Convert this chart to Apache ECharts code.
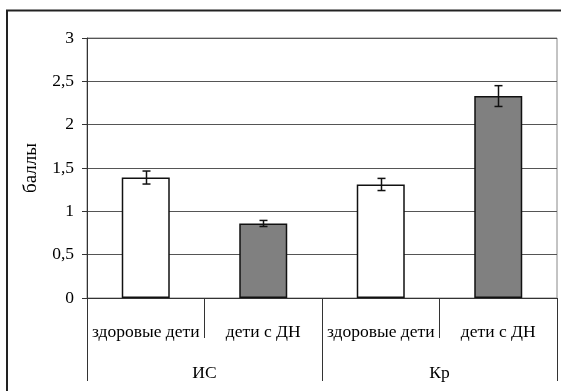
<!DOCTYPE html>
<html>
<head>
<meta charset="utf-8">
<script src="https://cdn.jsdelivr.net/npm/echarts@6/dist/echarts.min.js"></script>
<style>
  html, body { margin: 0; padding: 0; background: #fff; }
  #chart { width: 561px; height: 391px; }
</style>
</head>
<body>
<div id="chart"></div>
<script>
// Indicator groups and the two subject groups inside each
const groups = ['ИС', 'Кр'];
const subgroups = ['здоровые дети', 'дети с ДН'];
// Mean scores and their error margins, in order ИС/здоровые, ИС/ДН, Кр/здоровые, Кр/ДН
const means = [1.39, 0.86, 1.31, 2.33];
const errors = [0.075, 0.035, 0.07, 0.12];
const yTicks = [0, 0.5, 1, 1.5, 2, 2.5, 3];

const categories = [];
groups.forEach(() => subgroups.forEach(s => categories.push(s)));
const fills = ['#ffffff', '#808080'];

const font = '"Liberation Serif", "Times New Roman", serif';
const fs = 17.5;
const chart = echarts.init(document.getElementById('chart'));

chart.setOption({
  animation: false,
  backgroundColor: '#fff',
  textStyle: { fontFamily: font },
  graphic: [{
    type: 'rect',
    shape: { x: 7, y: 10.5, width: 600, height: 420 },
    style: { fill: 'none', stroke: '#222', lineWidth: 2 },
    silent: true
  }],
  grid: {
    left: 87, right: 4, top: 38, bottom: 93,
    show: true, borderColor: '#888', borderWidth: 1, backgroundColor: 'transparent'
  },
  xAxis: [{
    type: 'category',
    data: categories,
    boundaryGap: true,
    axisLine: { lineStyle: { color: '#333', width: 1 } },
    axisTick: { show: true, length: 40, alignWithLabel: false, lineStyle: { color: '#333' } },
    axisLabel: { color: '#000', fontSize: fs, fontFamily: font, margin: 25, interval: 0 },
    splitLine: { show: false }
  }, {
    type: 'category',
    data: groups,
    position: 'bottom',
    offset: 40,
    boundaryGap: true,
    axisLine: { show: false },
    axisTick: { show: true, length: 43, alignWithLabel: false, lineStyle: { color: '#333' } },
    axisLabel: { color: '#000', fontSize: fs, fontFamily: font, margin: 26 },
    splitLine: { show: false }
  }],
  yAxis: {
    type: 'value',
    min: yTicks[0],
    max: yTicks[yTicks.length - 1],
    interval: 0.5,
    name: 'баллы',
    nameLocation: 'middle',
    nameGap: 46,
    nameTextStyle: { color: '#000', fontSize: 19, fontFamily: font },
    axisLine: { show: true, lineStyle: { color: '#333', width: 1 } },
    axisTick: { show: true, length: 5, lineStyle: { color: '#333' } },
    axisLabel: {
      color: '#000', fontSize: fs, fontFamily: font, margin: 13,
      formatter: v => String(v).replace('.', ',')
    },
    splitLine: { show: true, lineStyle: { color: '#555', width: 1 } }
  },
  series: [{
    type: 'bar',
    xAxisIndex: 0,
    barWidth: 48,
    data: means.map((v, i) => ({
      value: v,
      itemStyle: { color: fills[i % 2], borderColor: '#111', borderWidth: 1.5 }
    })),
    z: 2
  }, {
    type: 'custom',
    xAxisIndex: 0,
    data: means.map((v, i) => [i, v - errors[i], v + errors[i]]),
    renderItem: (params, api) => {
      const lo = api.coord([api.value(0), api.value(1)]);
      const hi = api.coord([api.value(0), api.value(2)]);
      const x = Math.round(lo[0]) + 0.5;
      const cap = 4;
      const style = { stroke: '#111', lineWidth: 1.5, fill: 'none' };
      return {
        type: 'group',
        children: [
          { type: 'line', shape: { x1: x, y1: hi[1], x2: x, y2: lo[1] }, style },
          { type: 'line', shape: { x1: x - cap, y1: hi[1], x2: x + cap, y2: hi[1] }, style },
          { type: 'line', shape: { x1: x - cap, y1: lo[1], x2: x + cap, y2: lo[1] }, style }
        ]
      };
    },
    z: 3
  }]
});
</script>
</body>
</html>
